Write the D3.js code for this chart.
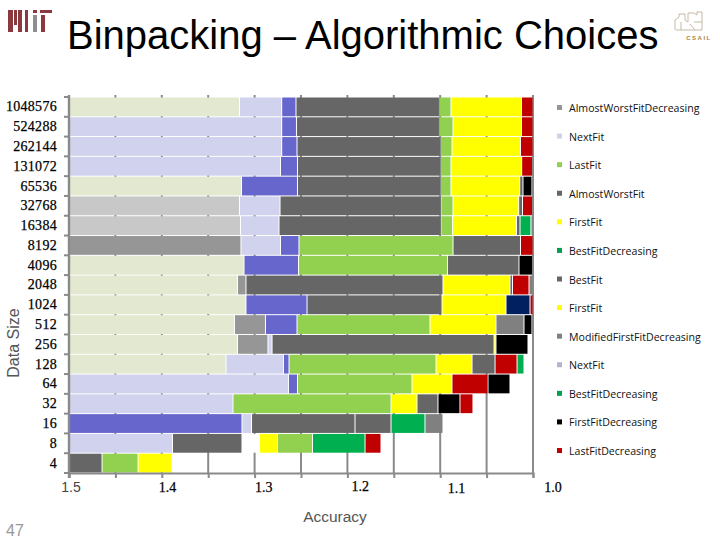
<!DOCTYPE html>
<html><head><meta charset="utf-8">
<style>html,body{margin:0;padding:0;background:#fff}svg{display:block}</style>
<script src="https://cdn.jsdelivr.net/npm/d3@7/dist/d3.min.js"></script>
</head><body><svg id="c" width="720" height="540"></svg>
<script>
const title = "Binpacking – Algorithmic Choices";
const sizes = ["1048576","524288","262144","131072","65536","32768","16384","8192","4096","2048","1024","512","256","128","64","32","16","8","4"];
const palette = {E:"#e3e9d0",S:"#c8c8c8",M:"#969696",L:"#d0d2ee",B:"#6666cc",D:"#666666",G:"#92d050",Y:"#ffff00",R:"#c00000",K:"#000000",T:"#00b050",N:"#002060",A:"#808080",W:"#ffffff"};
const rowKinds = [
 ["E","L","B","D","G","Y","R"],
 ["L","B","D","G","Y","R"],
 ["L","B","D","G","Y","R"],
 ["L","B","D","G","Y","R"],
 ["E","B","D","G","Y","D","K"],
 ["S","L","D","G","Y","D","R"],
 ["S","L","D","G","Y","D","T","A"],
 ["M","L","B","G","D","R"],
 ["E","B","G","D","K"],
 ["E","M","D","Y","D","R","A"],
 ["E","B","D","Y","N","R"],
 ["E","M","B","G","Y","A","K"],
 ["E","M","L","D","Y","K"],
 ["E","L","B","G","Y","D","R","T"],
 ["L","B","G","Y","R","K"],
 ["L","G","Y","D","K","R"],
 ["B","L","D","D","T","A"],
 ["L","D","W","Y","G","T","R"],
 ["D","G","Y"]
];
const rowEnds = [
 [1.3163,1.2708,1.2554,1.1008,1.0884,1.0124,1.0],
 [1.2708,1.2549,1.1008,1.0862,1.0124,1.0],
 [1.2708,1.2543,1.0997,1.0873,1.0135,1.0],
 [1.2721,1.2538,1.0997,1.0884,1.0122,1.0005],
 [1.3141,1.2538,1.0997,1.0884,1.0143,1.0108,1.0011],
 [1.3163,1.2726,1.0991,1.0862,1.0154,1.0113,1.0005],
 [1.3152,1.2737,1.0991,1.0867,1.0178,1.0140,1.0022,1.0],
 [1.3147,1.2721,1.2522,1.0862,1.0135,1.0],
 [1.3114,1.2527,1.0921,1.0151,1.0005],
 [1.3184,1.3093,1.0970,1.0248,1.0221,1.0043,1.0],
 [1.3093,1.2435,1.0981,1.0291,1.0032,1.0],
 [1.3217,1.2883,1.2543,1.1110,1.0399,1.0097,1.0011],
 [1.3184,1.2856,1.2812,1.0420,1.0399,1.0054],
 [1.3308,1.2689,1.2629,1.1045,1.0657,1.0409,1.0172,1.0097],
 [1.2635,1.2538,1.1304,1.0873,1.0485,1.0248],
 [1.3233,1.1530,1.1250,1.1024,1.0787,1.0647],
 [1.3136,1.3033,1.1918,1.1530,1.1164,1.0970],
 [1.3885,1.3136,1.2947,1.2753,1.2376,1.1810,1.1638],
 [1.4644,1.4256,1.3890]
];
const xTicks = [1.5,1.45,1.4,1.35,1.3,1.25,1.2,1.15,1.1,1.05,1.0];
const xLabels = ["1.5","1.4","1.3","1.2","1.1","1.0"];
const legendNames = ["AlmostWorstFitDecreasing","NextFit","LastFit","AlmostWorstFit","FirstFit","BestFitDecreasing","BestFit","FirstFit","ModifiedFirstFitDecreasing","NextFit","BestFitDecreasing","FirstFitDecreasing","LastFitDecreasing"];
const legendColors = ["#969696","#d0d2e6","#92d050","#666666","#ffff00","#00a050","#666666","#ffff00","#808080","#b4b4d0","#00a050","#000000","#c00000"];

const svg = d3.select("#c");
const x = d3.scaleLinear().domain([1.5,1.0]).range([69,533]);
const y = d3.scaleBand().domain(sizes).range([97,473]);
const labelX = d3.scaleLinear().domain([1.5,1.0]).range([71,553]);
const axisCol = "#8a8a8a";

// logo + title
const mit = svg.append("g").attr("fill","#8a3a3e");
[[8,10,5,22],[14,10,3,15],[18,10,4,22],[25,10,3,22],[33,10,4,3],[40,10,12,3],[41,15,4,17]].forEach(r=>
  mit.append("rect").attr("x",r[0]).attr("y",r[1]).attr("width",r[2]).attr("height",r[3]));
mit.append("rect").attr("x",33).attr("y",15).attr("width",4).attr("height",17).attr("fill","#8f8f8f");
svg.append("text").attr("x",67).attr("y",49).attr("font-family","Liberation Sans").attr("font-size",40).attr("fill","#000").text(title);

const cs = svg.append("g").attr("fill","none").attr("stroke","#c4b8a6").attr("stroke-width",1);
cs.append("path").attr("d","M675 30V20l4-3V14h6v6l3 2V13h6l3 2v-3h5v18M676 30h26M681 22v8M690 24l5 6M694 22h8");
svg.append("text").attr("x",699).attr("y",40).attr("text-anchor","middle").attr("font-family","Liberation Sans").attr("font-weight","bold").attr("font-size",6).attr("letter-spacing",1.5).attr("fill","#a8833a").text("CSAIL");

// grid
svg.append("g").selectAll("line").data(xTicks).join("line")
  .attr("x1",d=>x(d)).attr("x2",d=>x(d)).attr("y1",95).attr("y2",473)
  .attr("stroke",axisCol).attr("stroke-width",2);

// bars
rowEnds.forEach((ends,i)=>{
  const g = svg.append("g");
  g.selectAll("rect").data(ends).join("rect")
    .attr("x",(d,j)=>x(j?ends[j-1]:1.5)+(j?0.5:1))
    .attr("width",(d,j)=>Math.max(0.5,x(d)-x(j?ends[j-1]:1.5)-(j?1:1.5)))
    .attr("y",y(sizes[i])+0.5)
    .attr("height",y.bandwidth()-1)
    .attr("fill",(d,j)=>palette[rowKinds[i][j]]);
});

// axes
const xAxis = d3.axisBottom(x).tickValues(xTicks).tickSize(5).tickFormat("");
const gx = svg.append("g").attr("transform","translate(0,473)").call(xAxis);
gx.selectAll("path,line").attr("stroke",axisCol).attr("stroke-width",2);
const yAxis = d3.axisLeft(y).tickSize(0).tickPadding(12);
const gy = svg.append("g").attr("transform","translate(69,0)").call(yAxis);
gy.select("path").attr("stroke",axisCol).attr("stroke-width",2.4).attr("d","M0,95V478");
gy.selectAll("text").attr("font-family","Liberation Serif").attr("font-size",14).attr("letter-spacing",0.3).attr("fill","#000").attr("stroke","#000").attr("stroke-width",0.25);
svg.append("g").selectAll("line").data(y.domain().concat(["end"])).join("line")
  .attr("x1",64).attr("x2",69).attr("y1",d=>d==="end"?473:y(d)).attr("y2",d=>d==="end"?473:y(d))
  .attr("stroke",axisCol).attr("stroke-width",2);

svg.append("g").selectAll("text").data(xLabels).join("text")
  .attr("x",d=>labelX(+d)).attr("y",(d,i)=>i==3?491:(i==4?493:492))
  .attr("text-anchor","middle").attr("font-size",14)
  .attr("font-family",(d,i)=>i?"Liberation Serif":"Liberation Sans")
  .attr("fill",(d,i)=>i?"#000":"#444")
  .attr("stroke",(d,i)=>i?"#000":"none").attr("stroke-width",0.25).text(d=>d);

svg.append("text").attr("x",335).attr("y",522).attr("text-anchor","middle").attr("font-family","Liberation Sans").attr("font-size",15.5).attr("fill","#555").text("Accuracy");
svg.append("text").attr("transform","translate(19,343) rotate(-90)").attr("text-anchor","middle").attr("font-family","Liberation Sans").attr("font-size",16).attr("fill","#555").text("Data Size");
svg.append("text").attr("x",6).attr("y",536).attr("font-family","Liberation Sans").attr("font-size",16).attr("fill","#999").text("47");

// legend
const ly = d3.scalePoint().domain(d3.range(legendNames.length)).range([108,451]);
const lg = svg.append("g").selectAll("g").data(legendNames).join("g").attr("transform",(d,i)=>`translate(0,${ly(i)})`);
lg.append("rect").attr("x",557).attr("y",-3).attr("width",5).attr("height",5).attr("fill",(d,i)=>legendColors[i]);
lg.append("text").attr("x",569).attr("y",4).attr("font-family","Open Sans").attr("font-size",10.6).attr("fill","#111").text(d=>d);
</script></body></html>
